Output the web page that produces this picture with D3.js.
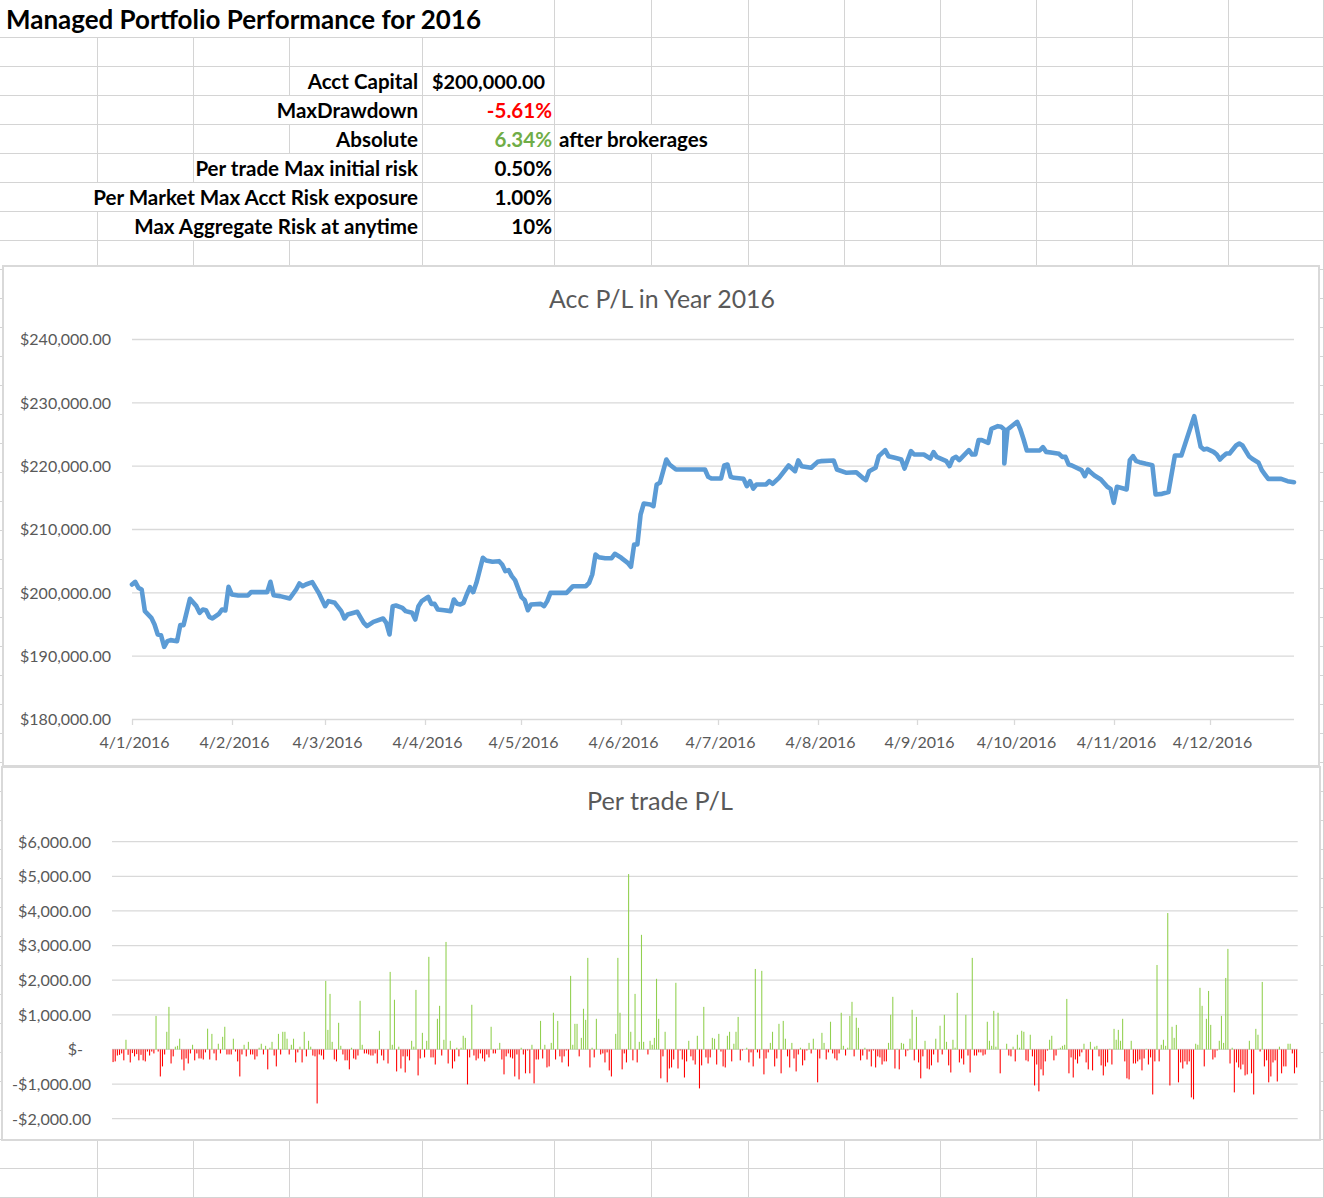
<!DOCTYPE html>
<html><head><meta charset="utf-8">
<script src="https://cdn.jsdelivr.net/npm/d3@7/dist/d3.min.js"></script>
<style>html,body{margin:0;padding:0;background:#fff;} svg{display:block}</style>
</head><body>
<svg id="c" width="1324" height="1198"></svg>
<script>
// ---------------- DATA ----------------
const pageTitle = "Managed Portfolio Performance for 2016";
const summaryLabels = ["Acct Capital","MaxDrawdown","Absolute","Per trade Max initial risk","Per Market Max Acct Risk exposure","Max Aggregate Risk at anytime"];
const summaryValues = ["$200,000.00","-5.61%","6.34%","0.50%","1.00%","10%"];
const summaryNotes  = ["","","after brokerages","","",""];
const lineTitle = "Acc P/L in Year 2016";
const barTitle  = "Per trade P/L";

const lineDates = ["4/1","5/1","6/1","7/1","8/1","10/1","11/1","12/1","13/1","14/1","15/1","16/1","18/1","19/1","20/1","22/1","24/1","25/1","26/1","27/1","28/1","29/1","31/1",
"1/2","2/2","3/2","4/2","6/2","9/2","10/2","15/2","16/2","17/2","19/2","22/2","24/2","25/2","26/2","27/2","29/2",
"2/3","4/3","5/3","7/3","9/3","10/3","11/3","14/3","16/3","17/3","19/3","22/3","23/3","24/3","25/3","26/3","28/3","29/3","31/3",
"1/4","2/4","3/4","5/4","6/4","7/4","8/4","10/4","12/4","13/4","14/4","15/4","16/4","17/4","18/4","19/4","20/4","22/4","23/4","25/4","27/4","28/4","29/4","30/4",
"1/5","2/5","4/5","5/5","6/5","7/5","10/5","11/5","12/5","13/5","18/5","20/5","24/5","25/5","26/5","27/5","28/5","30/5",
"1/6","2/6","4/6","6/6","7/6","8/6","9/6","10/6","11/6","13/6","14/6","15/6","16/6","18/6","19/6","21/6","30/6",
"1/7","2/7","5/7","6/7","7/7","8/7","9/7","12/7","13/7","14/7","15/7","16/7","19/7","20/7","21/7","23/7","26/7","28/7","29/7","30/7",
"2/8","4/8","5/8","9/8","10/8","13/8","16/8","18/8","19/8","20/8","22/8","23/8","25/8","26/8","28/8","30/8","31/8",
"2/9","3/9","6/9","8/9","9/9","10/9","13/9","14/9","15/9","16/9","17/9","20/9","21/9","22/9","23/9","24/9","26/9","27/9","29/9","30/9",
"1/10","1/10","2/10","5/10","6/10","7/10","8/10","12/10","13/10","14/10","16/10","18/10","19/10","20/10","21/10","22/10","25/10","26/10","27/10","28/10","29/10","31/10",
"2/11","3/11","4/11","5/11","7/11","8/11","9/11","10/11","11/11","12/11","14/11","16/11","17/11","19/11","21/11","23/11","25/11","29/11",
"1/12","2/12","3/12","5/12","6/12","7/12","8/12","9/12","10/12","12/12","13/12","14/12","16/12","17/12","19/12","20/12","21/12","22/12","26/12","28/12","30/12"];

const lineValues = [201320,201740,200790,200530,197110,196050,195000,193420,193320,191470,192370,192530,192370,194900,194900,199050,197900,196840,197370,197260,196210,195950,196690,
197370,197210,200950,199740,199580,199580,200110,200110,201740,199630,199480,199110,200530,201470,201050,201320,201690,
200000,197900,198690,198420,197110,195950,196580,197000,195260,194740,195420,195950,195260,193420,197900,198000,197630,197110,196840,
195790,197900,198690,199370,198260,198260,197370,197260,197110,198950,198260,198160,198420,199740,200900,200110,201580,205530,205110,204900,205000,204470,203420,203580,
202630,202000,199320,198840,197260,198160,198260,197900,198690,200000,200000,201050,201050,201580,202900,206050,205630,205470,
205470,206160,205530,204740,204110,207630,207630,212370,214110,213950,213690,217110,217370,221050,220260,219470,219470,
218320,218050,218050,220110,220260,218320,218160,218000,216840,217630,216470,217110,217110,217630,217210,218160,220110,219210,220900,220000,
219740,220680,220790,220900,219470,218950,219050,218160,217790,219210,219740,221580,222530,221580,221320,221050,219630,
222370,221840,221840,221210,222210,221470,220790,220000,221210,221470,220950,222530,221840,221840,224110,224110,223680,225900,226320,226210,
225790,220420,225790,227000,225790,224210,222470,222470,223000,222260,222110,221950,221470,221470,220260,220110,219370,218420,219470,218950,218530,217890,
216740,216420,214210,216740,216470,216320,220950,221580,220790,220630,220370,220160,215530,215630,215900,221690,221690,227900,
223050,222630,222740,222260,221840,221050,221580,222000,222000,223260,223580,223260,221580,221160,220530,219370,218680,218000,218000,217630,217470];

const lineYTicks = [180000,190000,200000,210000,220000,230000,240000];
const xTickLabels = ["4/1/2016","4/2/2016","4/3/2016","4/4/2016","4/5/2016","4/6/2016","4/7/2016","4/8/2016","4/9/2016","4/10/2016","4/11/2016","4/12/2016"];
const lineXDomain = ["4/1/2016","30/12/2016"];

const barValues = [
-365,-345,-175,-155,-115,-315,280,-155,-375,-105,-200,-135,-315,-155,-315,-345,-60,-175,-60,-115,
970,-60,-780,-490,-145,510,1230,-405,-200,80,105,310,-290,-605,-260,-405,-115,135,-315,-115,
-260,-260,-290,-85,600,-290,450,-115,-315,165,-115,365,655,-145,-145,-145,310,-60,-345,-780,
-145,135,-200,220,-145,-145,-290,-200,50,165,-145,105,-575,50,220,-175,-490,450,-145,510,
510,310,-145,135,310,-375,-85,80,-375,510,-200,250,
80,-175,-200,-1560,-145,-175,-290,1980,565,1605,220,-290,-345,770,105,-145,-315,-315,-575,50,
-260,-290,-175,1405,135,-115,-115,-145,-175,-175,-115,-405,540,-175,-315,0,-405,2240,135,1435,
-635,80,-550,-200,-665,-200,-315,250,80,1720,-750,-260,480,-230,250,2675,-230,-230,-435,885,
1260,-175,280,3105,-405,250,-550,-345,50,-200,50,395,335,-1010,-230,1290,-175,-315,-260,-115,
-260,-345,-145,-230,655,-115,-115,20,190,-290,-720,
-200,-115,-230,-260,-780,-145,-865,50,-145,-690,-30,-690,135,-980,-290,-290,825,-260,135,-520,
-490,190,1060,-290,825,-200,-375,-200,-30,-490,2125,135,740,740,-200,335,1175,855,2645,-520,
50,-230,885,0,-145,-115,-375,-85,-605,-780,0,450,2645,1060,-575,-115,-375,5065,510,-315,
1605,-375,220,3310,220,0,-145,250,135,335,2040,885,-835,-200,510,-950,-550,-520,-290,1925,
-550,-30,-290,-810,-345,250,-200,-315,-435,395,-1125,
-460,1230,-230,-405,-230,335,310,-435,450,-60,-490,-520,395,510,-345,165,510,940,-315,-30,
0,50,-375,-85,-490,2325,-85,-260,2270,-720,-260,-85,190,510,-490,-260,740,-690,825,310,
-200,-520,190,-260,-635,-145,50,-460,-315,-30,190,-115,310,20,-950,-260,480,190,-290,-85,
800,-115,-260,-315,-115,1060,105,-175,50,970,1375,-200,915,625,-315,-175,50,-290,-60,-490,
-30,-520,-200,-230,-435,-345,-345,190,1000,1520,
-550,20,-575,190,165,-200,-30,310,1145,-315,940,-375,-835,-200,250,-550,-575,-460,-145,310,
-375,685,-145,1000,220,-460,-665,280,50,1635,-375,-260,-435,1000,-175,-665,2645,-175,-175,-85,
-85,-175,-145,800,250,105,1115,80,1060,-690,0,0,165,-175,-200,80,-345,425,50,540,
510,-315,-345,425,-200,-1040,-435,-1210,-575,-750,-345,-30,280,395,-315,-175,20,50,105,135,
1460,-690,-230,-810,-290,-405,-200,-85,165,-375,-575,
220,-605,80,105,-200,-460,-750,-490,-375,20,-435,595,280,565,250,885,-345,-835,-865,250,
-405,-405,-345,-290,-605,-260,20,-435,-230,-1300,-345,2440,-345,135,280,105,3940,-1040,655,335,
710,-950,-375,-550,-345,-435,-345,-1385,-1440,165,135,1780,1260,-490,885,1690,710,-290,-230,-30,
250,970,190,2065,2905,-405,50,-1240,-375,-520,-575,-435,-750,-720,250,-690,-1300,595,425,-60,
1950,-490,-315,-950,-780,-375,-315,-925,80,-690,-490,-490,165,165,-115,-690,-520];
const barYTicks = [-2000,-1000,0,1000,2000,3000,4000,5000,6000];

// ---------------- RENDER ----------------
const FONT = "Lato, 'Open Sans', sans-serif";
const svg = d3.select("#c");
const W = 1324, H = 1198;
const parse = d3.utcParse("%d/%m/%Y");

function fitSize(str, weight, target) {
  const t = svg.append("text").attr("font-family", FONT).attr("font-weight", weight)
    .attr("font-size", 100).text(str);
  const w = t.node().getComputedTextLength();
  t.remove();
  return 100 * target / w;
}

// spreadsheet grid
const grid = svg.append("g").attr("stroke", "#d4d4d4").attr("stroke-width", 1).attr("shape-rendering", "crispEdges");
const colX = [97,193,289,422,554,651,748,844,940,1036,1132,1228,1323];
const rowY = [0,37]; for (let y = 66; y <= 1198; y += 29) rowY.push(y);
const hidden = {0:[97,193,289,422], 3:[289], 4:[651], 5:[289], 6:[97,193,289], 7:[193,289]};
for (let r = 0; r < rowY.length - 1; r++) {
  colX.forEach(x => {
    if (hidden[r] && hidden[r].includes(x)) return;
    grid.append("line").attr("x1", x + 0.5).attr("x2", x + 0.5).attr("y1", rowY[r]).attr("y2", rowY[r + 1]);
  });
}
rowY.slice(1).forEach(y => grid.append("line").attr("x1", 0).attr("x2", W).attr("y1", y + 0.5).attr("y2", y + 0.5));

// Title + summary table
const tSize = fitSize(pageTitle, 700, 475);
svg.append("text").attr("x", 6).attr("y", 29).attr("font-family", FONT).attr("font-weight", 700)
  .attr("font-size", tSize).attr("fill", "#000").text(pageTitle);

const sSize = fitSize(summaryLabels[4], 700, 325);
const rowCenters = [82,111,140,169,198,227];
const valueColors = ["#000","#ff0000","#70ad47","#000","#000","#000"];
summaryLabels.forEach((lab, i) => {
  const by = rowCenters[i] + sSize * 0.36;
  svg.append("text").attr("x", 418).attr("y", by).attr("text-anchor", "end")
    .attr("font-family", FONT).attr("font-weight", 700).attr("font-size", sSize).text(lab);
  if (i === 0) {
    const cSize = Math.min(sSize, fitSize(summaryValues[i], 700, 113));
    svg.append("text").attr("x", 432).attr("y", by).attr("font-family", FONT).attr("font-weight", 700)
      .attr("font-size", cSize).text(summaryValues[i]);
  } else {
    svg.append("text").attr("x", 552).attr("y", by).attr("text-anchor", "end")
      .attr("font-family", FONT).attr("font-weight", 700).attr("font-size", sSize)
      .attr("fill", valueColors[i]).text(summaryValues[i]);
  }
  if (summaryNotes[i]) {
    svg.append("text").attr("x", 559).attr("y", by).attr("font-family", FONT).attr("font-weight", 700)
      .attr("font-size", sSize).text(summaryNotes[i]);
  }
});

// chart frames
function frame(x, y, w, h) {
  svg.append("rect").attr("x", x).attr("y", y).attr("width", w).attr("height", h)
    .attr("fill", "#fff").attr("stroke", "#d9d9d9").attr("stroke-width", 2);
}
frame(3, 266, 1316, 500);
frame(2, 767, 1318, 373);

const AX = "#595959", GRID = "#d9d9d9";
const titleSize = fitSize(lineTitle, 400, 226);
const axSize = fitSize("$240,000.00", 400, 91);

// ---- chart 1: line ----
const lx = d3.scaleUtc().domain(lineXDomain.map(parse)).range([132, 1294]);
const ly = d3.scaleLinear().domain([180000, 240000]).range([719.5, 339.5]);
const g1 = svg.append("g");
g1.append("text").attr("x", 662).attr("y", 299 + titleSize * 0.36).attr("text-anchor", "middle")
  .attr("font-family", FONT).attr("font-size", titleSize).attr("fill", AX).text(lineTitle);
const money = d3.format(",.2f");
lineYTicks.forEach(v => {
  g1.append("line").attr("x1", 132).attr("x2", 1294).attr("y1", ly(v)).attr("y2", ly(v))
    .attr("stroke", GRID).attr("stroke-width", 1.3);
  g1.append("text").attr("x", 111).attr("y", ly(v) + axSize * 0.36).attr("text-anchor", "end")
    .attr("font-family", FONT).attr("font-size", axSize).attr("fill", AX).text("$" + money(v));
});
xTickLabels.forEach(s => {
  const xx = Math.round(lx(parse(s))) + 0.5;
  g1.append("line").attr("x1", xx).attr("x2", xx).attr("y1", 719.5).attr("y2", 725)
    .attr("stroke", GRID).attr("stroke-width", 1.3);
  g1.append("text").attr("x", xx + 2).attr("y", 742 + axSize * 0.36).attr("text-anchor", "middle")
    .attr("font-family", FONT).attr("font-size", axSize).attr("fill", AX).text(s);
});
const pts = lineDates.map((d, i) => ({ date: parse(d + "/2016"), v: lineValues[i] }));
g1.append("path").datum(pts)
  .attr("d", d3.line().x(d => lx(d.date)).y(d => ly(d.v)))
  .attr("fill", "none").attr("stroke", "#5b9bd5").attr("stroke-width", 4.6)
  .attr("stroke-linejoin", "round").attr("stroke-linecap", "round");

// ---- chart 2: bars ----
const g2 = svg.append("g");
const bTitleSize = fitSize(barTitle, 400, 146);
g2.append("text").attr("x", 660).attr("y", 801 + bTitleSize * 0.36).attr("text-anchor", "middle")
  .attr("font-family", FONT).attr("font-size", bTitleSize).attr("fill", AX).text(barTitle);
const by = d3.scaleLinear().domain([-2000, 6000]).range([1118.7, 841.7]);
const bx = d3.scaleBand().domain(d3.range(barValues.length)).range([112, 1297.7]).paddingInner(0.5).paddingOuter(0.25);
const acct = v => v === 0 ? "$-" : (v < 0 ? "-" : "") + "$" + money(Math.abs(v));
const bAxSize = fitSize("$6,000.00", 400, 73);
barYTicks.forEach(v => {
  g2.append("line").attr("x1", 112).attr("x2", 1297.7).attr("y1", by(v)).attr("y2", by(v))
    .attr("stroke", GRID).attr("stroke-width", 1.3);
  g2.append("text").attr("x", v === 0 ? 83 : 91).attr("y", by(v) + bAxSize * 0.36).attr("text-anchor", "end")
    .attr("font-family", FONT).attr("font-size", bAxSize).attr("fill", AX).text(acct(v));
});
g2.append("g").selectAll("rect").data(barValues).join("rect")
  .attr("x", (d, i) => bx(i)).attr("width", Math.max(1, bx.bandwidth()))
  .attr("y", d => by(Math.max(0, d))).attr("height", d => Math.abs(by(d) - by(0)))
  .attr("fill", d => d >= 0 ? "#92d050" : "#ff0000");
</script>
</body></html>
